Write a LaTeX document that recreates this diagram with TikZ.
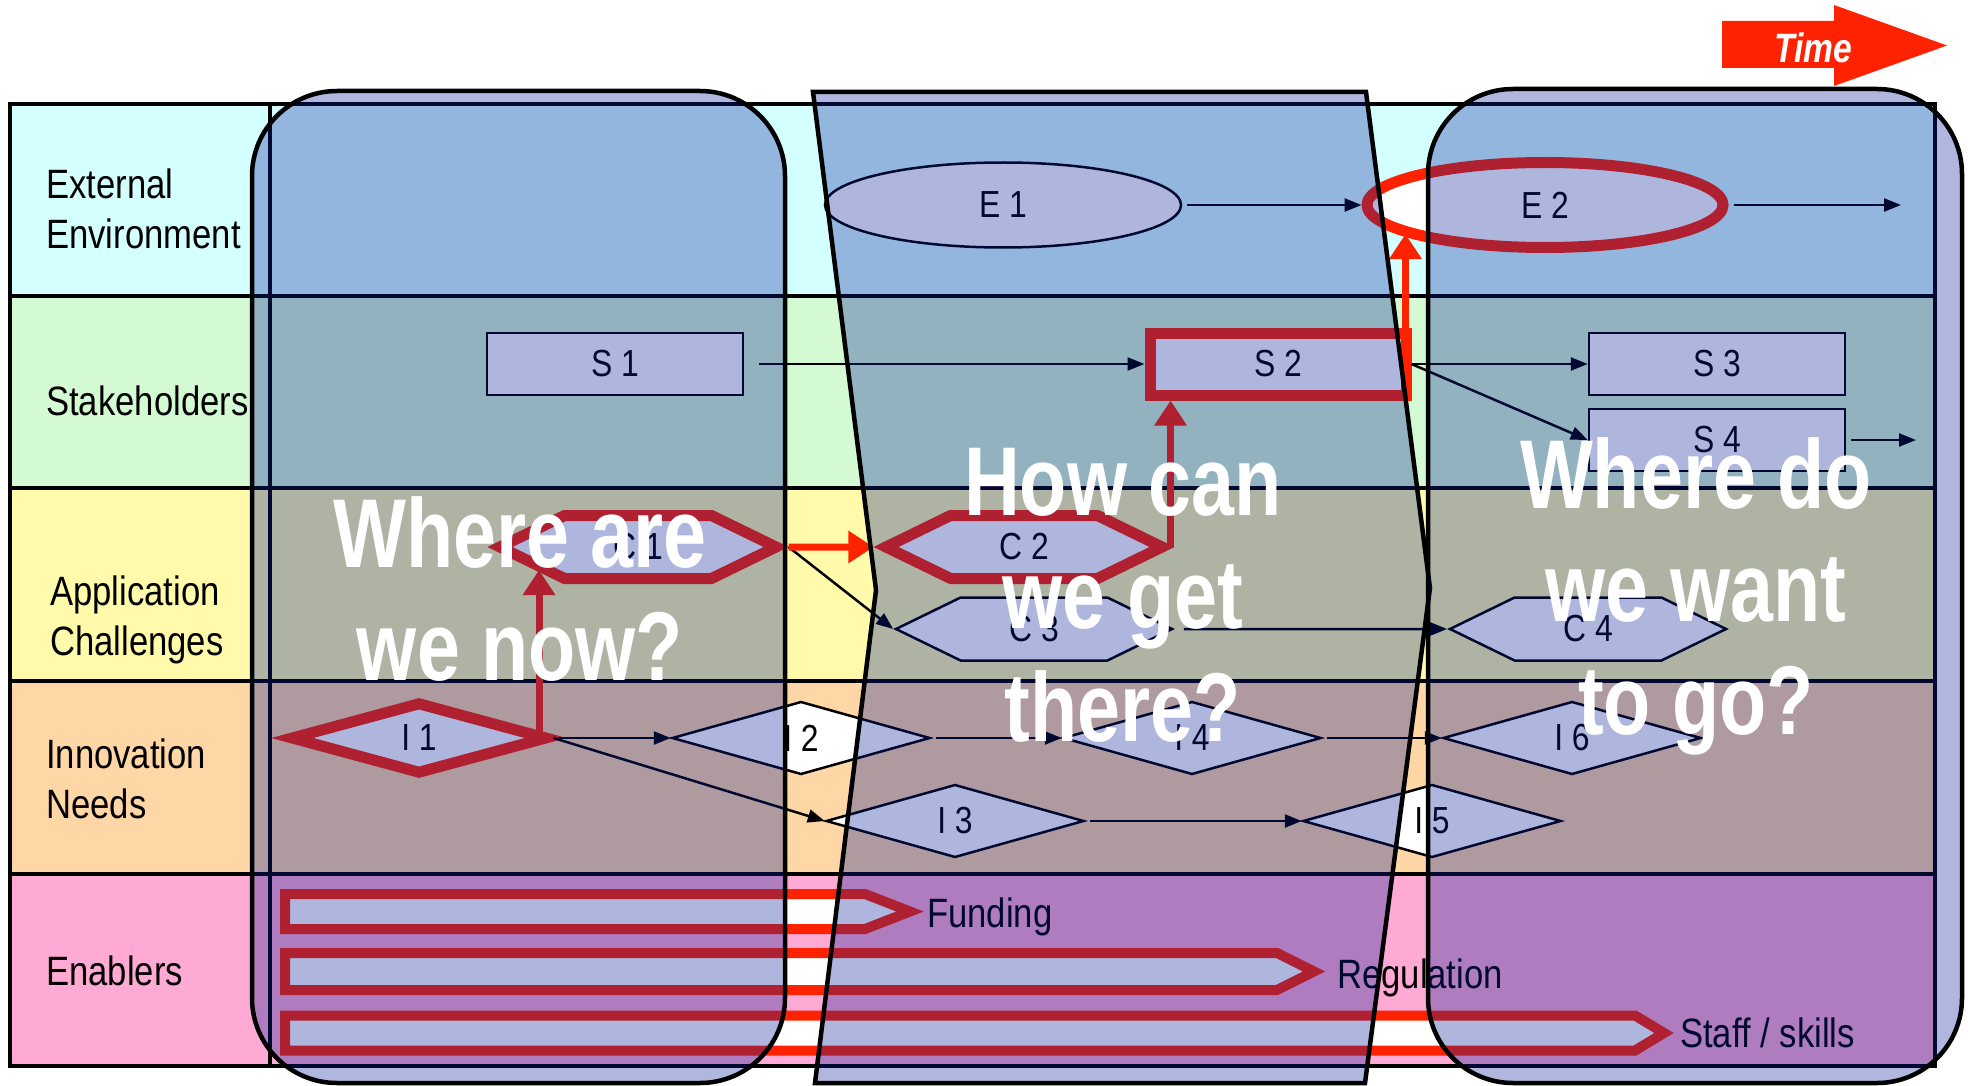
\documentclass[tikz,border=0pt]{standalone}
\usepackage{fontspec}
\usetikzlibrary{shapes.geometric,shapes.symbols,arrows.meta}

\newfontfamily\lanefont{Liberation Sans}[FakeStretch=0.845]
\newfontfamily\askfont{Liberation Sans}[FakeStretch=0.79]
\newfontfamily\timefont{Liberation Sans}[FakeStretch=0.82]

\definecolor{skyband}{RGB}{212,255,255}
\definecolor{leafband}{RGB}{212,250,212}
\definecolor{sunband}{RGB}{255,251,170}
\definecolor{peachband}{RGB}{255,214,166}
\definecolor{roseband}{RGB}{255,170,213}
\definecolor{signalred}{RGB}{255,34,0}
\definecolor{veil}{RGB}{8,28,150}

\begin{document}
\begin{tikzpicture}[x=1pt,y=-1pt]
  \useasboundingbox (0,0) rectangle (1970,1086);
  \tikzstyle{every node}+=[inner sep=0pt]
  \tikzstyle{lanetext}=[anchor=base west, align=left, font=\lanefont\fontsize{41}{49.6}\selectfont]
  \tikzstyle{elem}=[draw=black, line width=2.5, fill=white, font=\lanefont\fontsize{37.7}{45}\selectfont]
  \tikzstyle{hot}=[draw=signalred, line width=11]
  \tikzstyle{event}=[ellipse, elem, minimum width=356, minimum height=85]
  \tikzstyle{actor}=[rectangle, elem, minimum width=256, minimum height=62]
  \tikzstyle{hexa}=[signal, signal to=east and west, signal pointer angle=52, elem, minimum width=276, minimum height=63]
  \tikzstyle{need}=[diamond, elem, minimum width=258, minimum height=73]
  \tikzstyle{link}=[black, line width=2.5, -{Triangle[length=17pt,width=13pt]}, shorten <=5pt]
  \tikzstyle{push}=[signalred, line width=7, -{Triangle[length=25pt,width=31pt]}]
  \tikzstyle{enabler}=[draw=signalred, line width=10, fill=white, line join=miter]
  \tikzstyle{veil}=[draw=black, line width=4.5, fill=veil, fill opacity=0.32]
  \tikzstyle{ask}=[anchor=base, align=center, text=white, font=\askfont\bfseries\fontsize{97.8}{113}\selectfont]

  % swim lanes
  \fill[skyband] (10,104) rectangle (1935,296);
  \fill[leafband] (10,296) rectangle (1935,488);
  \fill[sunband] (10,488) rectangle (1935,681);
  \fill[peachband] (10,681) rectangle (1935,874);
  \fill[roseband] (10,874) rectangle (1935,1066);
  \draw[line width=4.4] (10,104) rectangle (1935,1066);
  \draw[line width=4.4] (270,104) -- (270,1066);
  \foreach \y in {296,488,681,874}
    \draw[line width=4.4] (10,\y) -- (1935,\y);

  % labels sit on the baseline of their last line
  \node[lanetext] (env) at (46,248.6) {External\\Environment};
  \node[lanetext] (stake) at (46,415.5) {Stakeholders};
  \node[lanetext] (chall) at (50,655.5) {Application\\Challenges};
  \node[lanetext] (needs) at (46,818) {Innovation\\Needs};
  \node[lanetext] (enab) at (46,985.5) {Enablers};

  % elements
  \node[event] (e1) at (1003,205) {E 1};
  \node[event, hot] (e2) at (1545,205) {E 2};
  \coordinate (e2out) at (1901,205);

  \node[actor] (s1) at (615,364) {S 1};
  \node[actor, hot] (s2) at (1278,364) {S 2};
  \node[actor] (s3) at (1717,364) {S 3};
  \node[actor] (s4) at (1717,440) {S 4};
  \coordinate (s4out) at (1916,440);

  \node[hexa, hot] (c1) at (638,547) {C 1};
  \node[hexa, hot] (c2) at (1024,547) {C 2};
  \node[hexa] (c3) at (1034,629) {C 3};
  \node[hexa] (c4) at (1588,629) {C 4};

  \node[need, hot] (i1) at (419,738) {I 1};
  \node[need] (i2) at (801,738) {I 2};
  \node[need] (i4) at (1192,738) {I 4};
  \node[need] (i6) at (1572,738) {I 6};
  \node[need] (i3) at (955,821) {I 3};
  \node[need] (i5) at (1432,821) {I 5};
  \coordinate (i1c1) at (539,570);

  \draw[link] (e1) -- (e2);
  \draw[link] (e2) -- (e2out);
  \draw[link, shorten <=15pt] (s1) -- (s2);
  \draw[link, shorten <=0pt] (s2) -- (s3);
  \draw[link, shorten <=0pt] (s2.east) -- (s4.west);
  \draw[link] (s4) -- (s4out);
  \draw[link, shorten <=0pt] (c1.east) -- (c3.west);
  \draw[link, shorten <=9pt] (c3) -- (c4);
  \draw[link] (i1) -- (i2);
  \draw[link, shorten <=0pt] (i1.east) -- (i3.west);
  \draw[link] (i2) -- (i4);
  \draw[link] (i4) -- (i6);
  \draw[link] (i3) -- (i5);

  \draw[push] (c1) -- (c2);
  \draw[push] (i1.east -| i1c1) -- (i1c1);
  \draw[push] ([xshift=-4pt]c2.east) -- ([xshift=-4pt]c2.east |- s2.south);
  \draw[push] ([xshift=-6pt]s2.south east) -- ([xshift=-6pt]s2.south east |- 0,234);

  % enablers
  \draw[enabler] (285,894) -- (865,894) -- (910,911.5) -- (865,929) -- (285,929) -- cycle;
  \draw[enabler] (285,953) -- (1277,953) -- (1314,971.5) -- (1277,990) -- (285,990) -- cycle;
  \draw[enabler] (285,1015.5) -- (1635,1015.5) -- (1664,1033) -- (1635,1050.5) -- (285,1050.5) -- cycle;
  \node[lanetext] (funding) at (927,927.5) {Funding};
  \node[lanetext] (regulation) at (1337,988) {Regulation};
  \node[lanetext] (staff) at (1680,1047) {Staff / skills};

  % time frames
  \draw[veil, rounded corners=85] (252,91) rectangle (785,1083);
  \draw[veil] (813,92) -- (1366,92) -- (1430,588) -- (1365,1083) -- (815,1083) -- (876,590) -- cycle;
  \draw[veil, rounded corners=85] (1428,89) rectangle (1962,1083);

  \node[ask] (now) at (520,680) {Where are\\we now?};
  \node[ask] (how) at (1123,741) {How can\\we get\\there?};
  \node[ask] (goal) at (1696,734) {Where do\\we want\\to go?};

  \fill[signalred] (1722,21) -- (1834,21) -- (1834,5) -- (1947,45.5) -- (1834,86) -- (1834,68) -- (1722,68) -- cycle;
  \node[anchor=base, text=white, font=\timefont\bfseries\itshape\fontsize{41}{49}\selectfont] (time) at (1813,62.5) {Time};
\end{tikzpicture}
\end{document}
